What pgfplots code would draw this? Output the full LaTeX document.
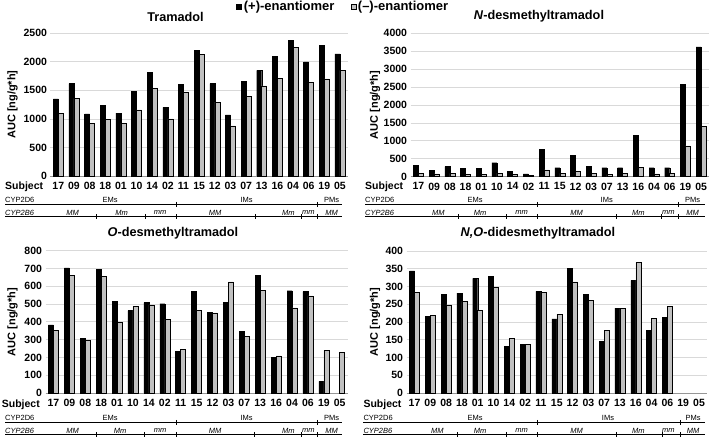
\documentclass[border=0pt]{standalone}
\usepackage{pgfplots}
\pgfplotsset{compat=1.18}
\usepackage{pgfplotstable}
\usepackage{fontspec}
\setmainfont{Liberation Sans}

\definecolor{bargray}{RGB}{192,192,192}
\definecolor{gridgray}{RGB}{217,217,217}
\definecolor{axgray}{RGB}{150,150,150}

\newcommand{\tickfont}{\fontsize{10.5}{12}\selectfont\bfseries}
\newcommand{\titlefont}{\fontsize{12.7}{14}\selectfont\bfseries}
\newcommand{\cypfont}{\fontsize{7.5}{8.5}\selectfont}

\pgfplotstableread{
x p m
0 1350 1100
1 1620 1360
2 1090 920
3 1240 995
4 1100 920
5 1480 1160
6 1810 1530
7 1200 1000
8 1605 1470
9 2200 2130
10 1620 1295
11 1070 880
12 1655 1390
13 1850 1580
14 2090 1715
15 2380 2250
16 2000 1640
17 2290 1700
18 2140 1850
}\tramadol

\pgfplotstableread{
x p m
0 320 100
1 170 80
2 280 90
3 230 60
4 240 60
5 390 100
6 140 60
7 80 30
8 760 190
9 250 90
10 600 140
11 280 100
12 250 60
13 250 100
14 1160 270
15 250 80
16 250 100
17 2570 860
18 3620 1400
}\ndes

\pgfplotstableread{
x p m
0 383 350
1 703 662
2 307 297
3 695 657
4 517 397
5 463 485
6 508 496
7 502 415
8 235 245
9 570 463
10 455 450
11 508 625
12 345 317
13 660 577
14 200 208
15 575 478
16 570 546
17 65 240
18 nan 228
}\odes

\pgfplotstableread{
x p m
0 344 284
1 215 218
2 278 248
3 281 258
4 323 232
5 329 298
6 132 154
7 138 136
8 286 284
9 209 222
10 351 313
11 278 261
12 145 177
13 239 238
14 317 368
15 177 210
16 213 244
17 nan nan
18 nan nan
}\nodes

\pgfplotsset{
  panel/.style={
    scale only axis,
    ybar=0pt, bar width=5pt,
    xmin=-0.5, xmax=18.5, ymin=0,
    xtick={0,...,18},
    xticklabels={17,09,08,18,01,10,14,02,11,15,12,03,07,13,16,04,06,19,05},
    axis x line*=bottom, axis y line*=left,
    x axis line style={draw=axgray, line width=0.8pt},
    y axis line style={draw=none},
    major tick length=0pt,
    ymajorgrids, grid style={draw=gridgray, line width=0.8pt},
    tick label style={font=\tickfont},
    xticklabel style={yshift=-2.5pt},
    /pgf/number format/assume math mode=true,
    /pgf/number format/1000 sep={},
    scaled y ticks=false,
    ylabel={AUC [ng/g*h]},
    clip=false,
  },
  ylabpos/.style={every axis y label/.style={at={(rel axis cs:#1,0.5)}, rotate=90, anchor=center, font=\fontsize{11}{12}\selectfont\bfseries}},
  plusbar/.style={fill=black, draw=black, line width=0.4pt},
  minusbar/.style={fill=bargray, draw=black, line width=0.5pt},
}

\begin{document}
\begin{tikzpicture}
\path[use as bounding box] (0pt,0pt) rectangle (709pt,438pt);

% Tramadol
\begin{axis}[panel, at={(50.5pt,262pt)}, anchor=south west,
  width=297.3pt, height=142.7pt, ymax=2500, ytick={0,500,...,2500},
  ylabpos=-0.128,
  legend columns=2,
  legend style={at={(0.985,1.188)}, anchor=center, draw=none, fill=none,
    font=\fontsize{13}{15}\selectfont\bfseries,
    /tikz/every even column/.append style={column sep=14pt}},
  ]
\addplot[plusbar, legend image code/.code={\draw[fill=black,draw=black] (0pt,-2.5pt) rectangle (5pt,2.5pt);}] table[x=x,y=p]{\tramadol};
\addplot[minusbar, legend image code/.code={\draw[fill=bargray,draw=black,line width=0.4pt] (0pt,-2.5pt) rectangle (5pt,2.5pt);}] table[x=x,y=m]{\tramadol};
\legend{(+)-enantiomer,(–)-enantiomer}
\end{axis}

% N-desmethyltramadol
\begin{axis}[panel, at={(410.6pt,261.3pt)}, anchor=south west,
  width=298.4pt, height=143.4pt, ymax=4000, ytick={0,500,...,4000},
  ylabpos=-0.119]
\addplot[plusbar] table[x=x,y=p]{\ndes};
\addplot[minusbar] table[x=x,y=m]{\ndes};
\end{axis}

% O-desmethyltramadol
\begin{axis}[panel, at={(45.5pt,45pt)}, anchor=south west,
  width=302.2pt, height=142.3pt, ymax=800, ytick={0,100,...,800},
  ylabpos=-0.109]
\addplot[plusbar] table[x=x,y=p]{\odes};
\addplot[minusbar] table[x=x,y=m]{\odes};
\end{axis}

% N,O-didesmethyltramadol
\begin{axis}[panel, at={(406.6pt,45pt)}, anchor=south west,
  width=300.3pt, height=142pt, ymax=400, ytick={0,50,...,400},
  ylabpos=-0.105]
\addplot[plusbar] table[x=x,y=p]{\nodes};
\addplot[minusbar] table[x=x,y=m]{\nodes};
\end{axis}

% annotations in pixel coordinates (y downward)
\begin{scope}[x=1pt, y=-1pt, shift={(0pt,438pt)}, every node/.style={inner sep=0pt}]
  % titles
  \node[font=\titlefont] at (175.5,16.5) {Tramadol};
  \node[font=\titlefont] at (539,16.5) {\textit{N}-desmethyltramadol};
  \node[font=\titlefont] at (173,233.5) {\textit{O}-desmethyltramadol};
  \node[font=\titlefont] at (538,233.5) {\textit{N,O}-didesmethyltramadol};

  % ---- top left
  \begin{scope}
    \node[anchor=west, font=\tickfont] at (5,186.7) {Subject};
    \node[anchor=west, font=\cypfont] at (5,200) {CYP2D6};
    \node[anchor=west, font=\cypfont\itshape] at (5,212.7) {CYP2B6};
    \draw[line width=0.6pt] (5,204.3) -- (342,204.3);
    \draw[line width=0.6pt] (5,216.7) -- (342,216.7);
    \foreach \t in {176,317.3} \draw[line width=0.6pt] (\t,201.8) -- (\t,207);
    \foreach \t in {96.7,145,176,255.7,301.7,317.3} \draw[line width=0.6pt] (\t,214.2) -- (\t,219.4);
    \node[font=\cypfont] at (110,200) {EMs};
    \node[font=\cypfont] at (246.7,200) {IMs};
    \node[font=\cypfont] at (331.7,200) {PMs};
    \foreach \xx/\lab in {72.7/MM,121.7/Mm,160/mm,215/MM,288.3/Mm,308.3/mm,331.7/MM}
      \node[font=\cypfont\itshape] at (\xx,212.7) {\lab};
  \end{scope}

  % ---- bottom left
  \begin{scope}[yshift=-218pt]
    \node[anchor=west, font=\tickfont] at (1.7,186.7) {Subject};
    \node[anchor=west, font=\cypfont] at (5,200) {CYP2D6};
    \node[anchor=west, font=\cypfont\itshape] at (5,212.7) {CYP2B6};
    \draw[line width=0.6pt] (5,204.3) -- (342,204.3);
    \draw[line width=0.6pt] (5,216.7) -- (342,216.7);
    \foreach \t in {176,317.3} \draw[line width=0.6pt] (\t,201.8) -- (\t,207);
    \foreach \t in {96.7,144.3,176,254.3,301,317.3} \draw[line width=0.6pt] (\t,214.2) -- (\t,219.4);
    \node[font=\cypfont] at (110,200) {EMs};
    \node[font=\cypfont] at (246.7,200) {IMs};
    \node[font=\cypfont] at (331.7,200) {PMs};
    \foreach \xx/\lab in {72.7/MM,120/Mm,160/mm,215/MM,288.3/Mm,308.3/mm,331.7/MM}
      \node[font=\cypfont\itshape] at (\xx,212.7) {\lab};
  \end{scope}

  % ---- top right
  \begin{scope}
    \node[anchor=west, font=\tickfont] at (365,186.7) {Subject};
    \node[anchor=west, font=\cypfont] at (365,200) {CYP2D6};
    \node[anchor=west, font=\cypfont\itshape] at (365,212.7) {CYP2B6};
    \draw[line width=0.6pt] (365,204.3) -- (705,204.3);
    \draw[line width=0.6pt] (365,216.7) -- (705,216.7);
    \foreach \t in {537.7,678.3} \draw[line width=0.6pt] (\t,201.8) -- (\t,207);
    \foreach \t in {458.3,506.7,537.7,616.7,661.7,678.3} \draw[line width=0.6pt] (\t,214.2) -- (\t,219.4);
    \node[font=\cypfont] at (475,200) {EMs};
    \node[font=\cypfont] at (606.7,200) {IMs};
    \node[font=\cypfont] at (692.7,200) {PMs};
    \foreach \xx/\lab in {438.3/MM,480/Mm,521.7/mm,576.7/MM,638.3/Mm,668.3/mm,692.7/MM}
      \node[font=\cypfont\itshape] at (\xx,212.7) {\lab};
  \end{scope}

  % ---- bottom right
  \begin{scope}[yshift=-218pt]
    \node[anchor=west, font=\tickfont] at (363.3,186.7) {Subject};
    \node[anchor=west, font=\cypfont] at (363.3,200) {CYP2D6};
    \node[anchor=west, font=\cypfont\itshape] at (363.3,212.7) {CYP2B6};
    \draw[line width=0.6pt] (363.3,204.3) -- (705,204.3);
    \draw[line width=0.6pt] (363.3,216.7) -- (705,216.7);
    \foreach \t in {537.7,680} \draw[line width=0.6pt] (\t,201.8) -- (\t,207);
    \foreach \t in {457.3,506,537.7,616.7,662.3,680} \draw[line width=0.6pt] (\t,214.2) -- (\t,219.4);
    \node[font=\cypfont] at (475,200) {EMs};
    \node[font=\cypfont] at (608,200) {IMs};
    \node[font=\cypfont] at (693,200) {PMs};
    \foreach \xx/\lab in {437.3/MM,480/Mm,521.7/mm,576.7/MM,638.3/Mm,668.3/mm,693/MM}
      \node[font=\cypfont\itshape] at (\xx,212.7) {\lab};
  \end{scope}
\end{scope}
\end{tikzpicture}
\end{document}
